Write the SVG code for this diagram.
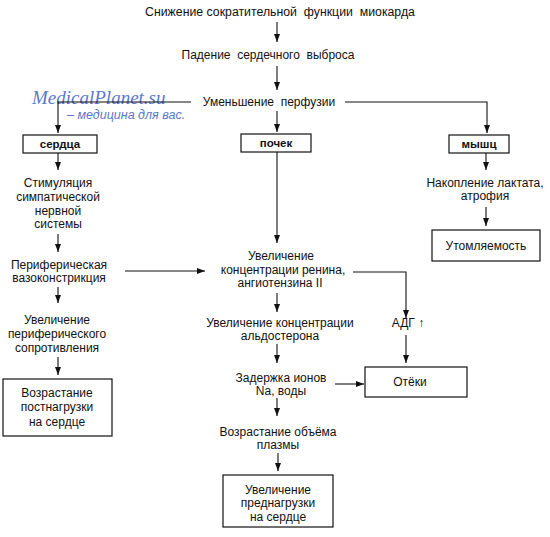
<svg xmlns="http://www.w3.org/2000/svg" width="550" height="537" viewBox="0 0 550 537">
<defs>
<marker id="ah" viewBox="0 0 8 6" refX="8" refY="3" markerWidth="8" markerHeight="6" markerUnits="userSpaceOnUse" orient="auto">
<path d="M0,0 L8,3 L0,6 Z" fill="#111"/>
</marker>
<style>
text{font-family:"Liberation Sans",Arial,sans-serif;font-size:12px;fill:#111;text-anchor:middle}
.p{white-space:pre}
.b{font-weight:bold;font-size:11.5px}
.box{fill:#fff;stroke:#111;stroke-width:1.2}
.c line,.c path{stroke:#111;stroke-width:1.1;fill:none}
.a{marker-end:url(#ah)}
.wm1{font-family:"Liberation Serif",serif;font-style:italic;font-size:19px;fill:#5a78d0;text-anchor:start}
.wm2{font-family:"Liberation Sans",sans-serif;font-style:italic;font-size:12.5px;fill:#5a78d0;text-anchor:start}
</style>
</defs>
<rect width="550" height="537" fill="#fff"/>
<g id="watermark">
<text class="wm1" x="32" y="104">MedicalPlanet.su</text>
<text class="wm2" x="67" y="119">– медицина для вас.</text>
</g>
<g class="c" id="connectors">
<line class="a" x1="277" y1="22" x2="277" y2="42"/>
<line class="a" x1="277" y1="66" x2="277" y2="90"/>
<path class="a" d="M191,102 H58 V133"/>
<path class="a" d="M345,102 H487 V133"/>
<line class="a" x1="277" y1="111" x2="277" y2="132"/>
<line class="a" x1="58" y1="153" x2="58" y2="170"/>
<line class="a" x1="58" y1="234" x2="58" y2="252"/>
<line class="a" x1="58" y1="287" x2="58" y2="303"/>
<line class="a" x1="58" y1="357" x2="58" y2="375"/>
<line class="a" x1="125" y1="271" x2="205" y2="271"/>
<line class="a" x1="277" y1="152" x2="277" y2="243"/>
<path class="a" d="M353,272 H406 V318"/>
<line class="a" x1="277" y1="293" x2="277" y2="312"/>
<line class="a" x1="277" y1="344" x2="277" y2="363"/>
<line class="a" x1="335" y1="384" x2="364" y2="384"/>
<line class="a" x1="277" y1="398" x2="277" y2="416"/>
<line class="a" x1="278" y1="453" x2="278" y2="471"/>
<line class="a" x1="406" y1="335" x2="406" y2="363"/>
<line class="a" x1="486" y1="153" x2="486" y2="170"/>
<line class="a" x1="486" y1="207" x2="486" y2="226"/>
</g>
<g id="n1"><text class="p" x="280" y="16" style="font-size:12.3px">Снижение сократительной  функции  миокарда</text></g>
<g id="n2"><text class="p" x="268" y="59">Падение  сердечного  выброса</text></g>
<g id="n3"><text class="p" x="269" y="106">Уменьшение  перфузии</text></g>
<g id="n4"><rect class="box" x="23" y="135" width="74" height="18"/><text class="b" x="60" y="148">сердца</text></g>
<g id="n5"><rect class="box" x="241" y="134" width="70" height="18"/><text class="b" x="276" y="147">почек</text></g>
<g id="n6"><rect class="box" x="449" y="135" width="60" height="18"/><text class="b" x="479" y="148">мышц</text></g>
<g id="n7"><text x="58" y="187">Стимуляция</text><text x="58" y="201">симпатической</text><text x="58" y="215">нервной</text><text x="58" y="228">системы</text></g>
<g id="n8"><text x="59" y="269">Периферическая</text><text x="59" y="282">вазоконстрикция</text></g>
<g id="n9"><text x="57" y="324">Увеличение</text><text x="57" y="338">периферического</text><text x="57" y="352">сопротивления</text></g>
<g id="n10"><rect class="box" x="3" y="379" width="109" height="57"/><text x="57" y="397">Возрастание</text><text x="57" y="411">постнагрузки</text><text x="57" y="426">на сердце</text></g>
<g id="n11"><text x="281" y="260">Увеличение</text><text x="283" y="274">концентрации ренина,</text><text x="280" y="287">ангиотензина II</text></g>
<g id="n12"><text x="280" y="327">Увеличение концентрации</text><text x="280" y="340">альдостерона</text></g>
<g id="n13"><text x="281" y="382">Задержка ионов</text><text x="281" y="395">Na, воды</text></g>
<g id="n14"><text x="278" y="436">Возрастание объёма</text><text x="278" y="449">плазмы</text></g>
<g id="n15"><rect class="box" x="223" y="475" width="110" height="52"/><text x="278" y="494">Увеличение</text><text x="278" y="507">преднагрузки</text><text x="278" y="521">на сердце</text></g>
<g id="n16"><text x="408" y="327">АДГ ↑</text></g>
<g id="n17"><rect class="box" x="365" y="367" width="102" height="30"/><text x="410" y="386">Отёки</text></g>
<g id="n18"><text x="485" y="187">Накопление лактата,</text><text x="485" y="200">атрофия</text></g>
<g id="n19"><rect class="box" x="432" y="230" width="108" height="31"/><text x="486" y="250">Утомляемость</text></g>
</svg>
